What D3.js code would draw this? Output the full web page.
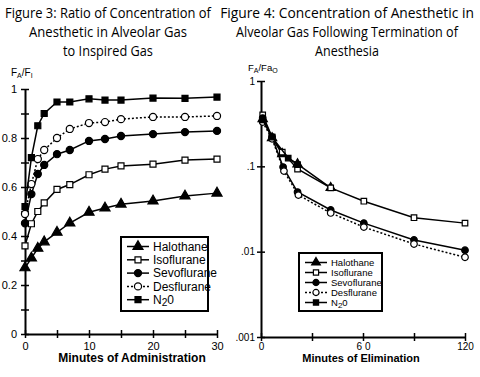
<!DOCTYPE html>
<html>
<head>
<meta charset="utf-8">
<script src="https://cdn.jsdelivr.net/npm/d3@7"></script>
<style>
  body { margin: 0; background: #fff; }
  svg { display: block; }
  text { fill: #000; }
</style>
</head>
<body>
<svg id="chart" width="480" height="377"></svg>
<script>
// Figure 3 data (minutes of administration -> FA/FI)
const adminMinutes = [0, 1, 2, 3, 5, 7, 10, 12.5, 15, 20, 25, 30]
const adminHalothane = [0.27, 0.31, 0.35, 0.376, 0.415, 0.453, 0.497, 0.514, 0.53, 0.543, 0.563, 0.575]
const adminIsoflurane = [0.36, 0.45, 0.5, 0.535, 0.59, 0.61, 0.65, 0.673, 0.686, 0.693, 0.71, 0.714]
const adminSevoflurane = [0.452, 0.571, 0.653, 0.69, 0.734, 0.751, 0.788, 0.796, 0.808, 0.816, 0.824, 0.829]
const adminDesflurane = [0.49, 0.612, 0.714, 0.751, 0.8, 0.837, 0.861, 0.865, 0.877, 0.886, 0.886, 0.89]
const adminN2O = [0.52, 0.72, 0.85, 0.9, 0.947, 0.947, 0.96, 0.955, 0.955, 0.963, 0.962, 0.967]

// Figure 4 data (minutes of elimination -> FA/FAo), [minute, value]
const elimHalothane = [[1, 0.36], [6.5, 0.215], [12.5, 0.14], [21.5, 0.106], [41, 0.056]]
const elimIsoflurane = [[1, 0.4], [6.5, 0.22], [12.5, 0.147], [21.5, 0.093], [41, 0.056], [60.5, 0.039], [90, 0.025], [120, 0.0216]]
const elimSevoflurane = [[1, 0.368], [6.5, 0.22], [13, 0.098], [21.5, 0.05], [41, 0.0308], [60.5, 0.0216], [90, 0.0137], [120, 0.0104]]
const elimDesflurane = [[1, 0.33], [6.5, 0.21], [13.5, 0.088], [22, 0.046], [41, 0.0284], [60.5, 0.0194], [90, 0.0123], [120, 0.0086]]
const elimN2O = [[1, 0.35], [6.5, 0.22], [16, 0.125], [21.5, 0.105]]

const seriesNames = ['Halothane', 'Isoflurane', 'Sevoflurane', 'Desflurane', 'N2O']
const seriesStyle = {
  Halothane: { shape: d3.symbolTriangle, fill: '#000', dash: null },
  Isoflurane: { shape: d3.symbolSquare, fill: '#fff', dash: null },
  Sevoflurane: { shape: d3.symbolCircle, fill: '#000', dash: null },
  Desflurane: { shape: d3.symbolCircle, fill: '#fff', dash: '2,2' },
  N2O: { shape: d3.symbolSquare, fill: '#000', dash: null }
}
const symbolSize = { Halothane: 44, Isoflurane: 36, Sevoflurane: 40, Desflurane: 40, N2O: 36 }

const adminSeries = [adminHalothane, adminIsoflurane, adminSevoflurane, adminDesflurane, adminN2O]
  .map((vals, i) => ({ name: seriesNames[i], values: vals.map((v, j) => [adminMinutes[j], v]) }))
const elimSeries = [elimHalothane, elimIsoflurane, elimSevoflurane, elimDesflurane, elimN2O]
  .map((vals, i) => ({ name: seriesNames[i], values: vals }))

const svg = d3.select('#chart')
const sans = 'Liberation Sans, Arial, sans-serif'

// titles: Open Sans squeezed horizontally to the narrow face of the original
function title (lines, cx, widths) {
  lines.forEach((t, i) => {
    const g = svg.append('g')
    const txt = g.append('text')
      .attr('x', 0)
      .attr('y', 0)
      .attr('text-anchor', 'middle')
      .attr('font-family', 'Open Sans, sans-serif')
      .attr('font-size', 15)
      .text(t)
    const natural = txt.node().getComputedTextLength()
    const sx = Math.min(1, widths[i] / natural)
    g.attr('transform', `translate(${cx},${18 + i * 19}) scale(${sx},1)`)
  })
}
title(['Figure 3: Ratio of Concentration of', 'Anesthetic in Alveolar Gas', 'to Inspired Gas'], 108, [206, 158, 90])
title(['Figure 4: Concentration of Anesthetic in', 'Alveolar Gas Following Termination of', 'Anesthesia'], 347, [254, 222, 64])

function styleAxis (g) {
  g.select('.domain').attr('stroke-width', 2)
  g.selectAll('.tick line').attr('stroke-width', 1.5)
}

function drawSeries (g, series, x, y, sizeScale) {
  series.forEach(s => {
    const st = seriesStyle[s.name]
    g.append('path')
      .attr('d', d3.line().x(d => x(d[0])).y(d => y(d[1]))(s.values))
      .attr('fill', 'none')
      .attr('stroke', '#000')
      .attr('stroke-width', 1.5)
      .attr('stroke-dasharray', st.dash)
    g.selectAll(null)
      .data(s.values)
      .join('path')
      .attr('transform', d => `translate(${x(d[0])},${y(d[1])})`)
      .attr('d', d3.symbol(st.shape, symbolSize[s.name] * sizeScale))
      .attr('fill', st.fill)
      .attr('stroke', '#000')
      .attr('stroke-width', 1.2)
  })
}

function legend (g, x0, y0, w, h, rowH, fontSize, sizeScale, lineLen) {
  g.append('rect')
    .attr('x', x0).attr('y', y0).attr('width', w).attr('height', h)
    .attr('fill', '#fff').attr('stroke', '#000').attr('stroke-width', 2)
  seriesNames.forEach((name, i) => {
    const st = seriesStyle[name]
    const ry = y0 + 9.5 + i * rowH
    const lx = x0 + 6
    g.append('line')
      .attr('x1', lx).attr('x2', lx + lineLen).attr('y1', ry).attr('y2', ry)
      .attr('stroke', '#000').attr('stroke-width', 1.5).attr('stroke-dasharray', st.dash)
    g.append('path')
      .attr('transform', `translate(${lx + lineLen / 2},${ry})`)
      .attr('d', d3.symbol(st.shape, symbolSize[name] * sizeScale))
      .attr('fill', st.fill).attr('stroke', '#000').attr('stroke-width', 1.2)
    const t = g.append('text')
      .attr('x', lx + lineLen + 4).attr('y', ry + fontSize * 0.36)
      .attr('font-family', sans).attr('font-size', fontSize)
    if (name === 'N2O') {
      t.append('tspan').text('N')
      t.append('tspan').attr('dy', 2).attr('font-size', fontSize * 0.85).text('2')
      t.append('tspan').attr('dy', -2).text('0')
    } else {
      t.text(name)
    }
  })
}

// ---------- Figure 3 ----------
const x3 = d3.scaleLinear().domain([0, 30]).range([25, 217])
const y3 = d3.scaleLinear().domain([0, 1]).range([334, 89])
const g3 = svg.append('g')

const xAxis3 = g3.append('g')
  .attr('transform', `translate(0,${y3(0)})`)
  .call(d3.axisBottom(x3).tickValues(d3.range(0, 31, 5)).tickSize(4).tickSizeOuter(0)
    .tickFormat(d => d % 10 === 0 ? d : ''))
xAxis3.selectAll('.tick line').attr('y1', -4)
xAxis3.selectAll('.tick text').attr('font-family', sans).attr('font-size', 11).attr('dy', '0.85em')
styleAxis(xAxis3)

const yAxis3 = g3.append('g')
  .attr('transform', `translate(${x3(0)},0)`)
  .call(d3.axisLeft(y3).tickValues(d3.range(0, 11).map(d => d / 10)).tickSize(4).tickSizeOuter(0)
    .tickFormat(d => Math.round(d * 10) % 2 === 0 ? d3.format('~g')(d) : ''))
yAxis3.selectAll('.tick line').attr('x1', 4)
yAxis3.selectAll('.tick text').attr('font-family', sans).attr('font-size', 11).attr('x', -8)
styleAxis(yAxis3)

const fl3 = g3.append('text').attr('x', 11).attr('y', 76).attr('font-family', sans).attr('font-size', 10)
fl3.append('tspan').text('F')
fl3.append('tspan').attr('dy', 2).attr('font-size', 7).text('A')
fl3.append('tspan').attr('dy', -2).text('/F')
fl3.append('tspan').attr('dy', 2).attr('font-size', 7).text('I')

g3.append('text')
  .attr('x', 132).attr('y', 362)
  .attr('text-anchor', 'middle')
  .attr('font-family', sans).attr('font-weight', 'bold').attr('font-size', 12)
  .text('Minutes of Administration')

drawSeries(g3, adminSeries, x3, y3, 1)
legend(g3, 121, 237, 87, 74, 13.3, 12, 1, 22)

// ---------- Figure 4 ----------
const x4 = d3.scaleLinear().domain([0, 120]).range([261, 465])
const y4 = d3.scaleLog().domain([0.001, 1]).range([337, 81])
const g4 = svg.append('g')

const xAxis4 = g4.append('g')
  .attr('transform', `translate(0,${y4(0.001)})`)
  .call(d3.axisBottom(x4).tickValues([0, 30, 60, 90, 120]).tickSize(4).tickSizeOuter(0)
    .tickFormat(d => d === 60 ? '6 0' : d % 60 === 0 ? d : ''))
xAxis4.selectAll('.tick line').attr('y1', -4)
xAxis4.selectAll('.tick text').attr('font-family', sans).attr('font-size', 10).attr('dy', '0.6em')
styleAxis(xAxis4)

const yAxis4 = g4.append('g')
  .attr('transform', `translate(${x4(0)},0)`)
  .call(d3.axisLeft(y4).tickValues([0.001, 0.01, 0.1, 1]).tickSize(4).tickSizeOuter(0)
    .tickFormat(d => d === 1 ? '1' : String(d).replace(/^0/, '')))
yAxis4.selectAll('.tick line').attr('x1', 4)
yAxis4.selectAll('.tick text').attr('font-family', sans).attr('font-size', 10).attr('x', -6)
styleAxis(yAxis4)

const fl4 = g4.append('text').attr('x', 248).attr('y', 71).attr('font-family', sans).attr('font-size', 9.5)
fl4.append('tspan').text('F')
fl4.append('tspan').attr('dy', 2).attr('font-size', 7).text('A')
fl4.append('tspan').attr('dy', -2).text('/Fa')
fl4.append('tspan').attr('dy', 2).attr('font-size', 7).text('O')

g4.append('text')
  .attr('x', 361).attr('y', 362)
  .attr('text-anchor', 'middle')
  .attr('font-family', sans).attr('font-weight', 'bold').attr('font-size', 11)
  .text('Minutes of Elimination')

drawSeries(g4, elimSeries, x4, y4, 0.85)
legend(g4, 299, 253, 83, 58, 10, 9.5, 0.75, 22)
</script>
</body>
</html>
